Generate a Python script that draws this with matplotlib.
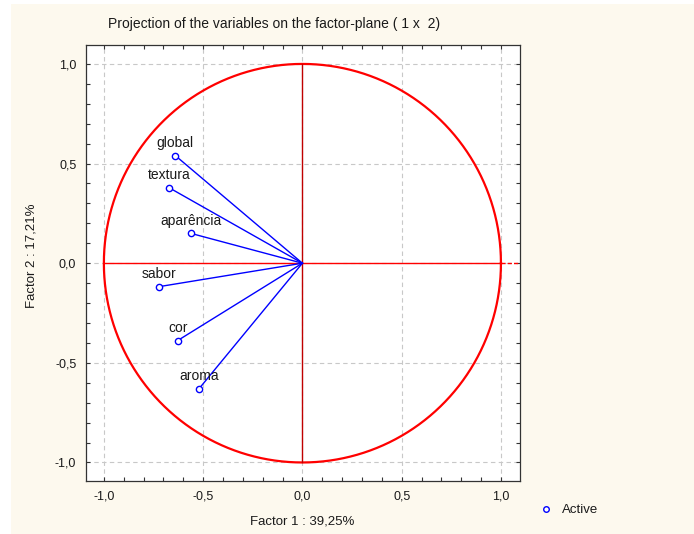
import numpy as np
import matplotlib
matplotlib.use("Agg")
import matplotlib.pyplot as plt
from matplotlib.ticker import MultipleLocator, FuncFormatter
from matplotlib.patches import Rectangle

plt.rcParams['font.family'] = ['Liberation Sans', 'DejaVu Sans']

# variable coordinates on factor 1 / factor 2
variables = ["global", "textura", "aparência", "sabor", "cor", "aroma"]
factor1 = [-0.640, -0.670, -0.563, -0.724, -0.628, -0.520]
factor2 = [0.540, 0.378, 0.150, -0.118, -0.388, -0.629]

title = "Projection of the variables on the factor-plane ( 1 x  2)"
xlabel = "Factor 1 : 39,25%"
ylabel = "Factor 2 : 17,21%"

bg = "#fdf9ee"
txt = "#1a1a1a"

fig = plt.figure(figsize=(6.94, 5.34), dpi=100)
fig.patch.set_facecolor("white")
# cream panel (thin white strip at top and left like the screenshot)
fig.patches.append(Rectangle((11 / 694, 0), 1, 1 - 4 / 534, transform=fig.transFigure,
                             facecolor=bg, edgecolor="none", zorder=-10))

ax = fig.add_axes([86 / 694, 53 / 534, 434 / 694, 436 / 534])
ax.set_facecolor("white")
ax.set_xlim(-1.09, 1.096)
ax.set_ylim(-1.093, 1.095)

# unit circle
t = np.linspace(0, 2 * np.pi, 721)
ax.plot(np.cos(t), np.sin(t), color="red", lw=1.6, zorder=3)
# axes lines
ax.plot([-1, 1], [0, 0], color="red", lw=1.0, zorder=3)
ax.plot([1, 1.096], [0, 0], color="red", lw=1.0, ls=(0, (3, 1.5)), zorder=3)
ax.plot([0, 0], [-1, 1], color="#c00000", lw=1.0, zorder=3)

# vectors
for x, y, name in zip(factor1, factor2, variables):
    ax.plot([0, x], [0, y], color="blue", lw=1.0, zorder=4)
    ax.annotate(name, (x, y), xytext=(0, 9), textcoords="offset points",
                ha="center", va="center", fontsize=10, color=txt, zorder=5)
ax.plot(factor1, factor2, "o", mfc="white", mec="blue", ms=4.5, mew=1.0,
        ls="none", zorder=5)

fmt = FuncFormatter(lambda v, p: f"{(0.0 if abs(v) < 1e-9 else v):.1f}".replace(".", ","))
for a in (ax.xaxis, ax.yaxis):
    a.set_major_locator(MultipleLocator(0.5))
    a.set_minor_locator(MultipleLocator(0.1))
    a.set_major_formatter(fmt)
ax.tick_params(which="both", direction="in", length=3, width=0.8, color="#333333",
               top=True, right=True, labelsize=9, labelcolor=txt, pad=7)
ax.grid(True, which="major", color="#c8c8c8", ls=(0, (4, 3)), lw=0.8)
ax.set_axisbelow(True)
for s in ax.spines.values():
    s.set_color("#333333")
    s.set_linewidth(0.9)

fig.text(108 / 694, 1 - 24 / 534, title, ha="left", va="center", fontsize=10, color=txt)
fig.text(302 / 694, 1 - 521 / 534, xlabel, ha="center", va="center", fontsize=9.5, color=txt)
fig.text(31 / 694, 1 - 256 / 534, ylabel, ha="center", va="center", rotation=90,
         fontsize=9.5, color=txt)

# legend
fig.lines.append(plt.Line2D([545.7 / 694], [1 - 509 / 534], marker="o", mfc="white",
                            mec="blue", ms=4, mew=1.0, ls="none", transform=fig.transFigure))
fig.text(562 / 694, 1 - 510 / 534, "Active", ha="left", va="center", fontsize=9.5, color=txt)

fig.savefig("out.png", dpi=100, facecolor=fig.get_facecolor())
